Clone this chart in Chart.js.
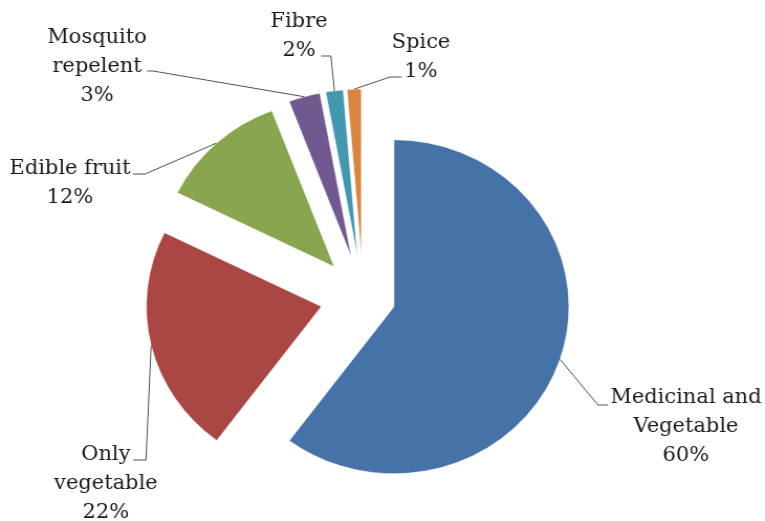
<!DOCTYPE html>
<html>
<head>
<meta charset="utf-8">
<script src="https://cdn.jsdelivr.net/npm/chart.js@4/dist/chart.umd.min.js"></script>
<style>
html,body{margin:0;padding:0;background:#fff;overflow:hidden;width:765px;height:521px;}
#wrap{position:absolute;left:0;top:0;width:730px;height:521px;transform:scaleX(1.0479);transform-origin:0 0;}
</style>
</head>
<body>
<div id="wrap"><canvas id="c"></canvas></div>
<script>
// ---- data ----
const categories = ['Medicinal and Vegetable', 'Only vegetable', 'Edible fruit', 'Mosquito repelent', 'Fibre', 'Spice'];
const labelLines = [['Medicinal and', 'Vegetable'], ['Only', 'vegetable'], ['Edible fruit'], ['Mosquito', 'repelent'], ['Fibre'], ['Spice']];
const shares = [60.2, 22.1, 11.9, 2.9, 1.6, 1.3];
const percentLabels = ['60%', '22%', '12%', '3%', '2%', '1%'];

// ---- style / layout ----
const colors = ['#4572A7', '#AA4643', '#89A54E', '#71588F', '#4198AF', '#DB843D'];
const explode = [31, 41, 41, 41, 41, 41];
const labelPos = [[654.6, 398], [101, 455], [66.8, 169], [92.6, 38], [285.3, 22], [401.7, 43]];
const leaderElbow = [[570.6, 405], [139.3, 460], [138.4, 174], [146, 71], [315.8, 56], [372.1, 77]];
const leaderEnd = [[580.2, 405], [127.2, 460], [126.9, 174], [140.3, 71], [306.3, 56], [383.3, 77]];
const FONT = '20px "DejaVu Serif"';
const LINE_H = 29;

const explodePlugin = {
  id: 'explode',
  beforeDatasetDraw(chart, args) {
    const ctx = chart.ctx;
    const meta = args.meta;
    meta.data.forEach((arc, i) => {
      const mid = (arc.startAngle + arc.endAngle) / 2;
      ctx.save();
      ctx.translate(Math.cos(mid) * explode[i], Math.sin(mid) * explode[i]);
      arc.draw(ctx);
      ctx.restore();
    });
    return false;
  },
  afterDatasetsDraw(chart) {
    const ctx = chart.ctx;
    const meta = chart.getDatasetMeta(0);
    ctx.save();
    meta.data.forEach((arc, i) => {
      const mid = (arc.startAngle + arc.endAngle) / 2;
      const rr = arc.outerRadius + explode[i];
      const sx = arc.x + Math.cos(mid) * rr;
      const sy = arc.y + Math.sin(mid) * rr;
      ctx.beginPath();
      ctx.strokeStyle = '#505050';
      ctx.lineWidth = 1;
      ctx.moveTo(sx, sy);
      ctx.lineTo(leaderElbow[i][0], leaderElbow[i][1]);
      ctx.lineTo(leaderEnd[i][0], leaderEnd[i][1]);
      ctx.stroke();
      const lines = labelLines[i].concat([percentLabels[i]]);
      ctx.fillStyle = '#1a1a1a';
      ctx.font = FONT;
      ctx.textAlign = 'center';
      ctx.textBaseline = 'middle';
      lines.forEach((t, k) => {
        ctx.fillText(t, labelPos[i][0], labelPos[i][1] + k * LINE_H);
      });
    });
    ctx.restore();
  }
};

new Chart(document.getElementById('c'), {
  type: 'pie',
  data: {
    labels: categories,
    datasets: [{
      data: shares,
      backgroundColor: colors,
      borderColor: '#ffffff',
      borderWidth: 0.5,
      offset: 0,
      hoverOffset: 0
    }]
  },
  options: {
    responsive: true,
    maintainAspectRatio: false,
    animation: false,
    devicePixelRatio: 1,
    radius: 167,
    layout: { padding: { left: 0, right: 37, top: 73, bottom: 0 } },
    plugins: { legend: { display: false }, tooltip: { enabled: false } },
    events: []
  },
  plugins: [explodePlugin]
});
</script>
</body>
</html>
